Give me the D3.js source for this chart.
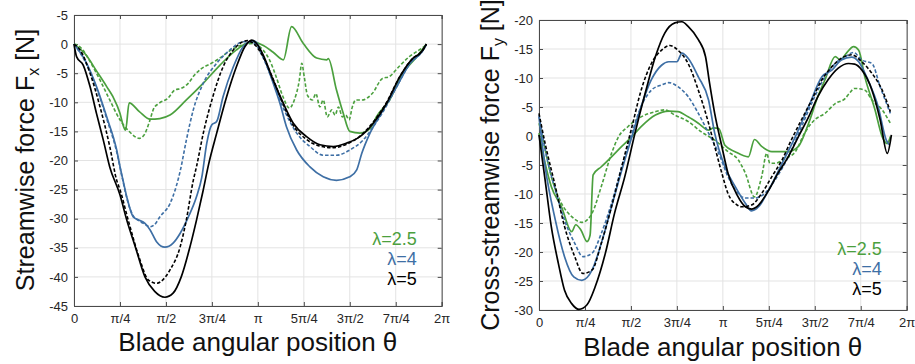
<!DOCTYPE html>
<html>
<head>
<meta charset="utf-8">
<script src="https://cdn.jsdelivr.net/npm/d3@7"></script>
<style>
  body { margin: 0; background: #fff; }
</style>
</head>
<body>
<div id="chart"></div>
<script>
// angles in degrees, forces in N (as plotted)
var xTickVals = [0, 45, 90, 135, 180, 225, 270, 315, 360];
var xTickLabels = ["0", "π/4", "π/2", "3π/4", "π", "5π/4", "3π/2", "7π/4", "2π"];

var fxTickVals = [5, 0, -5, -10, -15, -20, -25, -30, -35, -40, -45];
var fxTickLabels = ["-5", "0", "-5", "-10", "-15", "-20", "-25", "-30", "-35", "-40", "-45"];
var fyTickVals = [20, 15, 10, 5, 0, -5, -10, -15, -20, -25, -30];
var fyTickLabels = ["-20", "-15", "-10", "-5", "0", "-5", "-10", "-15", "-20", "-25", "-30"];

var legendLabels = ["λ=2.5", "λ=4", "λ=5"];

// streamwise force Fx
var fxL5 = [[0,0],[2.6,-2.2],[9,-3.6],[15.7,-7.3],[22,-11.9],[28.7,-16.5],[35,-21.1],[45,-25.9],[51.6,-30.2],[60,-34.8],[69.5,-40],[79,-42.5],[89,-43.5],[97,-42.8],[105,-40],[113.6,-34.8],[120,-30.2],[126,-25.5],[132,-20.5],[139.7,-15.3],[149.5,-9],[159,-3.9],[167.4,-0.4],[174,0.7],[178.8,0.1],[185.3,-1.9],[195,-6.2],[205,-10.2],[214.7,-13.6],[227.7,-15.9],[240.8,-17.3],[253.9,-17.6],[267,-17],[280,-15.9],[293,-13.6],[306,-10.2],[319,-5.6],[332,-2.4],[338.8,-1.6],[343.6,-0.4],[345,0]];
var fxL5d = [[0,0],[5.9,-1],[15.7,-5],[25.5,-10.8],[35,-17.6],[41.8,-23.4],[45,-25],[53,-30.2],[64.6,-37.1],[72.7,-40.5],[81,-41.1],[87,-40.5],[94,-38.8],[104,-34.8],[110,-30.2],[116.8,-23.4],[120,-21],[126.6,-15.3],[136,-9],[146,-3.9],[156,-1],[164,0.3],[170,0.6],[175,0.2],[184,-1.8],[194,-5.6],[204,-10],[214,-13.8],[227,-16.3],[240,-17.5],[253,-17.8],[267,-17.2],[280,-15.8],[293,-13.4],[306,-10],[319,-5.6],[332,-2.4],[339,-1.5],[343.6,-0.5],[345,0]];
var fxL4 = [[0,0],[12.4,-3.3],[22,-7.3],[32,-12.5],[41.8,-18.2],[45,-21],[48,-23.4],[51.6,-26.2],[58,-29.7],[63,-30.2],[69.5,-30.8],[74.4,-31.9],[81,-34],[89,-34.9],[97,-34.2],[104,-32.5],[112,-29.7],[120,-26.2],[125,-23],[130,-17],[134.8,-13.9],[139.7,-13.3],[146,-9],[156,-3.9],[165.7,-0.4],[172,0.4],[177,0.5],[185,-2],[195,-6.7],[201.7,-10.2],[208,-14.2],[218,-18.2],[231,-21.1],[244,-22.8],[257,-23.4],[270,-22.8],[276.8,-21.6],[281.7,-18.8],[289.8,-15.3],[302.8,-11.3],[316,-7.3],[329,-3.3],[342,-1],[345,0]];
var fxL4d = [[0,0],[12.4,-3.5],[22,-7.5],[32,-12.8],[41.8,-18.5],[48,-23.6],[53,-27.3],[58,-29.5],[63,-30.3],[69,-30.9],[74.4,-31.4],[79,-31],[84,-29.7],[94,-27.4],[100,-24.5],[104,-21.8],[110,-16.5],[116.8,-11.3],[126.6,-6.7],[139.7,-3.3],[152.7,-1],[165.7,0.4],[172,0.4],[177,0.1],[185,-2.3],[195,-6.5],[205,-11],[218,-15.3],[231,-17.6],[244,-19.1],[257,-19.1],[270,-18.2],[283,-16.5],[293,-14.2],[303,-11.5],[316,-7.3],[329,-3.3],[342,-1],[345,0]];
var fxL25 = [[0,0],[12.4,-2],[22,-4.6],[32,-7.3],[38,-9],[45,-11.9],[48,-13.9],[50.5,-14.8],[54,-10.1],[64,-11.6],[74.4,-12.9],[84,-12.8],[94,-12.2],[110,-9.6],[126.6,-6.7],[143,-3.6],[159,-1],[168.5,0.1],[175.5,0.4],[185,-0.2],[195,-1.4],[205,-2.7],[213,3],[224.5,0.1],[237.6,-2.4],[247.4,-2.7],[249,-2.5],[257,-7.9],[263.6,-11.9],[270,-15],[280,-15.3],[290,-14.5],[296,-12.5],[309,-9.6],[322,-5],[335.5,-2.2],[345,0]];
var fxL25d = [[0,0],[6,-0.5],[15.7,-3],[25.5,-6.2],[35,-9.6],[45,-13],[54,-15],[64,-16.2],[68.7,-15.6],[73.4,-13.6],[78,-11.1],[83,-10.2],[92,-9.3],[98.6,-7.9],[105,-7.6],[111.6,-6.8],[118,-5.3],[124.8,-4.2],[134.6,-3.3],[144.4,-2.2],[154,-1],[164,-0.2],[175.5,0.1],[185,-1],[191.4,-2.7],[197.9,-5.6],[204.5,-9],[211,-11],[215.7,-9.6],[220.6,-6.2],[223,-3.3],[225.4,-5.6],[228.6,-8.8],[233.5,-9.6],[236.8,-8.5],[240.7,-10.8],[244,-9.6],[248,-12.5],[252.4,-11.3],[255.6,-12.2],[258.9,-10.8],[262.8,-12.5],[266,-12.2],[269.3,-13],[272.5,-10.8],[275.8,-9.6],[282,-9.6],[292,-8.5],[302,-5.9],[308.5,-5.6],[318,-3.9],[328,-2.2],[338,-1],[344,-0.3]];

// cross-streamwise force Fy
var fyL5 = [[0,0.2],[6,-7.6],[12,-15.6],[19,-22],[25,-26.6],[32,-28.9],[39,-29.9],[47,-29.1],[55,-26],[65,-20.2],[74,-13.3],[84,-7],[94,0.5],[104,7.4],[114,13.7],[123,17.7],[133,19.5],[140,19.7],[146,18.9],[156,16.6],[163,13.7],[167,9.1],[172,3.9],[179,-1.8],[185,-6.4],[194,-10.2],[202,-12.2],[208,-12.6],[215,-11.9],[225,-9.3],[234,-6.4],[244,-3.6],[254,-0.1],[264,3.3],[273,6.8],[283,9.7],[293,11.7],[303,12.5],[309,12.4],[316,11.4],[326,7.9],[334,2.8],[341,-3],[345,0.2]];
var fyL5d = [[0,3.9],[6,-1.3],[16,-8.7],[25,-15.6],[35,-20.8],[43,-23.7],[52,-23.1],[61,-18.5],[71,-12.2],[81,-5.3],[91,1.6],[100,7.9],[110,12.5],[120,14.8],[128,15.6],[136,14.8],[146,12.5],[156,7.9],[166,2.2],[172,-1.8],[179,-6.4],[185,-9.9],[194,-11.9],[198,-12.2],[208,-11.9],[218,-9.9],[228,-7],[238,-4.1],[247,-0.7],[257,2.8],[267,6.2],[277,9.7],[287,12],[296,13.4],[306,14],[316,12.8],[326,10.8],[336,7.9],[344,4.2]];
var fyL4 = [[0,3.3],[6,-5.3],[16,-14.5],[25,-20.8],[34,-24.3],[42,-24.9],[52,-23.1],[61,-18.5],[71,-12.2],[81,-5.9],[91,-0.1],[100,5.1],[110,9.7],[120,12.2],[127,12.8],[135,12.8],[140,14.3],[146,13.4],[156,10.2],[166,6.2],[172,0.5],[182,-5.3],[192,-8.7],[202,-11.6],[208,-12.9],[215,-12.2],[225,-9.3],[238,-4.7],[251,-0.1],[264,5.1],[277,10.2],[287,11.4],[296,13.1],[306,13.6],[313,12.8],[322,9.7],[332,5.1],[340,-0.7],[343,-1.5]];
var fyL4d = [[0,3.6],[6,-2.4],[16,-9.3],[25,-14.5],[35,-18.5],[43,-20.8],[52,-20.2],[61,-16.8],[71,-11.6],[81,-5.3],[91,0.5],[100,5.1],[110,7.9],[120,8.8],[127,9.2],[136,8.5],[146,6.8],[156,3.9],[166,0.5],[176,-3],[185,-7],[195,-9.9],[202,-10.7],[211,-10.7],[221,-9.9],[231,-7.6],[244,-3.6],[257,1.6],[270,6.8],[280,10.2],[290,12.5],[300,13.7],[308,14.4],[316,13.1],[326,12.5],[334,8.5],[344,3.9]];
var fyL25 = [[0,0.5],[6,-4.7],[12,-8.7],[22,-12.2],[32,-16.5],[36,-15.3],[41,-16.2],[47,-18.2],[50,-17.1],[53,-6.7],[61,-5.3],[71,-3.6],[81,-1.8],[91,-0.1],[100,1.6],[114,3.6],[127,4.3],[136,4.2],[146,3.3],[156,2.2],[166,1],[171,1.4],[176,1.3],[182,-1.6],[192,-2.7],[205,-3.6],[211,-0.6],[218,-1.8],[228,-2.7],[244,-2.7],[254,-1.8],[264,2.2],[273,6.8],[280,9.7],[290,13.7],[295,13.1],[301,14.3],[308,15.4],[313,14.8],[319,10.2],[329,4.5],[336,-0.1],[341,-1.3],[344,-0.1]];
var fyL25d = [[0,2.2],[4,-0.7],[12,-7],[22,-11.6],[32,-13.9],[42,-14.9],[52,-13.3],[61,-8.7],[71,-3],[78,-0.1],[87,1.6],[100,3.3],[114,4.2],[123,4.5],[133,3.6],[146,2.5],[159,0.7],[172,-0.7],[185,-2.7],[195,-4.1],[202,-6.4],[211,-10.5],[218,-7],[223,-3],[226,-4.7],[231,-4.7],[241,-3.9],[251,-2.7],[260,0.5],[270,2.8],[280,3.9],[290,5.6],[300,6.5],[304,7.4],[309,8.2],[319,7.9],[326,6.2],[336,4.5],[344,2.2]];

var green = "#4ba03e", blue = "#3e6fa5", black = "#000";
var font = "'Liberation Sans', Arial, sans-serif";

var svg = d3.select("#chart").append("svg")
  .attr("width", 915)
  .attr("height", 364);

function panel(opt) {
  var x = d3.scaleLinear().domain([0, 360]).range([opt.left, opt.right]),
      y = d3.scaleLinear().domain(opt.yDomain).range([opt.bottom, opt.top]);
  var g = svg.append("g");

  // grid
  g.selectAll(".gx").data(xTickVals).enter().append("line")
    .attr("x1", d => x(d)).attr("x2", d => x(d))
    .attr("y1", opt.top).attr("y2", opt.bottom)
    .style("stroke", "#e3e3e3").style("stroke-width", 1);
  g.selectAll(".gy").data(opt.yTicks).enter().append("line")
    .attr("x1", opt.left).attr("x2", opt.right)
    .attr("y1", d => y(d)).attr("y2", d => y(d))
    .style("stroke", "#e3e3e3").style("stroke-width", 1);

  // axes, ticks inside on all sides
  var fmtY = function(d, i) { return opt.yLabels[i]; };
  g.append("g").attr("transform", "translate(" + opt.left + ",0)")
    .call(d3.axisLeft(y).tickValues(opt.yTicks).tickSize(-4).tickPadding(6).tickFormat(fmtY));
  g.append("g").attr("transform", "translate(" + opt.right + ",0)")
    .call(d3.axisRight(y).tickValues(opt.yTicks).tickSize(-4).tickFormat(""));
  g.append("g").attr("transform", "translate(0," + opt.bottom + ")")
    .call(d3.axisBottom(x).tickValues(xTickVals).tickSize(-4).tickPadding(8)
      .tickFormat(function(d, i) { return xTickLabels[i]; }));
  g.append("g").attr("transform", "translate(0," + opt.top + ")")
    .call(d3.axisTop(x).tickValues(xTickVals).tickSize(-4).tickFormat(""));
  g.selectAll(".domain").style("stroke", "#4a4a4a");
  g.selectAll(".tick line").style("stroke", "#4a4a4a");
  g.selectAll(".tick text").style("font-family", font)
    .style("font-size", "13px").style("fill", "#262626");

  var line = d3.line()
    .x(d => x(d[0]))
    .y(d => y(d[1]))
    .curve(d3.curveMonotoneX);

  opt.series.forEach(function(s) {
    g.append("path")
      .datum(s.data)
      .attr("d", line)
      .style("fill", "none")
      .style("stroke", s.color)
      .style("stroke-width", s.dash ? 1.6 : 1.7)
      .style("stroke-dasharray", s.dash ? "3.5,2" : null);
  });

  // legend text
  [green, blue, black].forEach(function(c, i) {
    g.append("text")
      .attr("x", opt.right - 25)
      .attr("y", opt.legY + i * 20)
      .attr("text-anchor", "end")
      .style("font-family", font)
      .style("font-size", "18px")
      .style("fill", c)
      .text(legendLabels[i]);
  });

  // axis titles
  svg.append("text")
    .attr("x", (opt.left + opt.right) / 2)
    .attr("y", opt.xTitleY)
    .attr("text-anchor", "middle")
    .style("font-family", font)
    .style("font-size", "26px")
    .style("fill", "#111")
    .text("Blade angular position θ");

  var yt = svg.append("text")
    .attr("transform", "translate(" + opt.yTitleX + "," + opt.yTitleY + ") rotate(-90)")
    .attr("text-anchor", "middle")
    .style("font-family", font)
    .style("font-size", "25px")
    .style("fill", "#111");
  yt.append("tspan").text(opt.yTitle + " F");
  yt.append("tspan").attr("dy", 5).style("font-size", "16px").text(opt.sub);
  yt.append("tspan").attr("dy", -5).text(" [N]");
}

panel({
  left: 74, right: 441.7, top: 15, bottom: 306,
  yDomain: [-45, 5], yTicks: fxTickVals, yLabels: fxTickLabels,
  legY: 245, xTitleY: 351, yTitleX: 34, yTitleY: 160,
  yTitle: "Streamwise force", sub: "x",
  series: [
    {data: fxL25d, color: green, dash: true},
    {data: fxL25, color: green},
    {data: fxL4d, color: blue, dash: true},
    {data: fxL4, color: blue},
    {data: fxL5d, color: black, dash: true},
    {data: fxL5, color: black}
  ]
});

panel({
  left: 539, right: 906.7, top: 20, bottom: 310,
  yDomain: [-30, 20], yTicks: fyTickVals, yLabels: fyTickLabels,
  legY: 255, xTitleY: 356, yTitleX: 499, yTitleY: 165,
  yTitle: "Cross-streamwise force", sub: "y",
  series: [
    {data: fyL25d, color: green, dash: true},
    {data: fyL25, color: green},
    {data: fyL4d, color: blue, dash: true},
    {data: fyL4, color: blue},
    {data: fyL5d, color: black, dash: true},
    {data: fyL5, color: black}
  ]
});
</script>
</body>
</html>
